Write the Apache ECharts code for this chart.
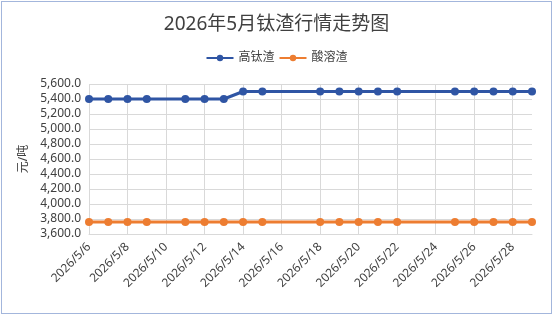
<!DOCTYPE html>
<html>
<head>
<meta charset="utf-8">
<script src="https://cdn.jsdelivr.net/npm/echarts@6/dist/echarts.min.js"></script>
<style>
  html, body { margin: 0; padding: 0; background: #fff; }
  #chart { width: 553px; height: 324px; }
  #frame { position: absolute; left: 1px; top: 1px; width: 549px; height: 311px; border: 1px solid #a3b6dc; pointer-events: none; }
</style>
</head>
<body>
<div id="chart"></div>
<div id="frame"></div>
<script>
// dates 5/6 .. 5/29, missing days are null
const dates = ['2026/5/6', '2026/5/7', '2026/5/8', '2026/5/9', '2026/5/10', '2026/5/11', '2026/5/12', '2026/5/13',
  '2026/5/14', '2026/5/15', '2026/5/16', '2026/5/17', '2026/5/18', '2026/5/19', '2026/5/20', '2026/5/21',
  '2026/5/22', '2026/5/23', '2026/5/24', '2026/5/25', '2026/5/26', '2026/5/27', '2026/5/28', '2026/5/29']
const highTi = [5400, 5400, 5400, 5400, null, 5400, 5400, 5400,
  5500, 5500, null, null, 5500, 5500, 5500, 5500,
  5500, null, null, 5500, 5500, 5500, 5500, 5500]
const acidSol = [3760, 3760, 3760, 3760, null, 3760, 3760, 3760,
  3760, 3760, null, null, 3760, 3760, 3760, 3760,
  3760, null, null, 3760, 3760, 3760, 3760, 3760]
const seriesNames = ['高钛渣', '酸溶渣']
const yMin = 3600, yMax = 5600, yStep = 200

const font = "'Noto Sans', 'Noto Sans CJK SC', sans-serif"
const textColor = '#404040'
const gridColor = '#d9d9d9'
const colors = ['#2f55a4', '#ed7d31']

const chart = echarts.init(document.getElementById('chart'))

function lineSeries(name, data, color) {
  return {
    name: name,
    type: 'line',
    data: data,
    connectNulls: true,
    symbol: 'circle',
    symbolSize: 8,
    lineStyle: { color: color, width: 3 },
    itemStyle: { color: color },
    animation: false
  }
}

chart.setOption({
  color: colors,
  textStyle: { fontFamily: font },
  title: {
    text: '2026年5月钛渣行情走势图',
    left: 'center',
    top: 10,
    textStyle: { fontSize: 19, fontWeight: 'normal', color: textColor, fontFamily: font }
  },
  legend: {
    data: seriesNames,
    top: 47,
    left: 'center',
    itemWidth: 27,
    itemHeight: 8,
    itemGap: 4,
    textStyle: { fontSize: 12, color: textColor }
  },
  grid: { left: 89, right: 21, top: 84, bottom: 90 },
  xAxis: {
    type: 'category',
    data: dates,
    boundaryGap: false,
    axisLine: { lineStyle: { color: gridColor } },
    axisTick: { show: false },
    axisLabel: { interval: 1, rotate: 45, fontSize: 12, color: textColor, margin: 11 },
    splitLine: { show: true, interval: 1, lineStyle: { color: gridColor } }
  },
  yAxis: {
    type: 'value',
    min: yMin,
    max: yMax,
    interval: yStep,
    name: '元/吨',
    nameLocation: 'middle',
    nameGap: 52,
    nameTextStyle: { fontSize: 12, color: textColor },
    axisLine: { show: false },
    axisTick: { show: false },
    axisLabel: {
      fontSize: 12,
      color: textColor,
      margin: 8,
      formatter: v => v.toLocaleString('en-US', { minimumFractionDigits: 1, maximumFractionDigits: 1 })
    },
    splitLine: { lineStyle: { color: gridColor } }
  },
  series: [
    lineSeries(seriesNames[0], highTi, colors[0]),
    lineSeries(seriesNames[1], acidSol, colors[1])
  ]
})
</script>
</body>
</html>
